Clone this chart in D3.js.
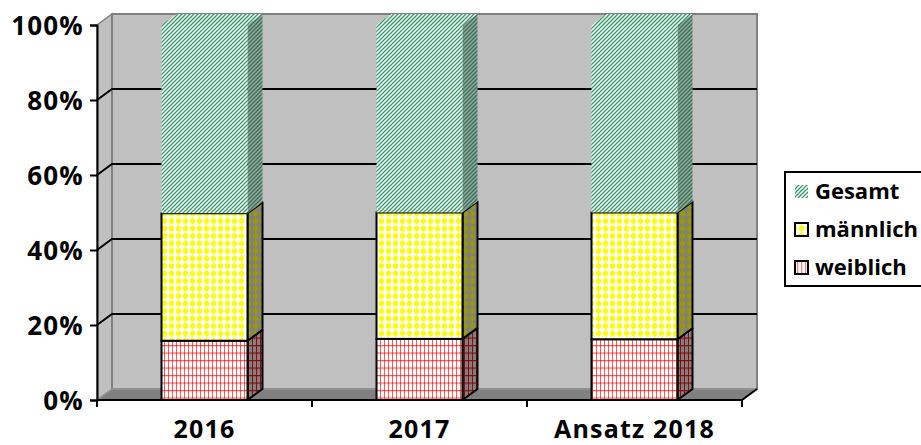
<!DOCTYPE html>
<html><head><meta charset="utf-8">
<script src="https://cdn.jsdelivr.net/npm/d3@7"></script>
<style>html,body{margin:0;padding:0;background:#fff;}svg{display:block;font-family:"Open Sans",sans-serif;font-weight:700;}</style>
</head><body>
<script>
const categories = ["2016", "2017", "Ansatz 2018"];
const seriesNames = ["weiblich", "männlich", "Gesamt"];
const weiblich = [15.8, 16.3, 16.2];
const maennlich = [34.0, 33.7, 33.8];
const gesamt = [50.2, 50.0, 50.0];
const yTicks = [0, 20, 40, 60, 80, 100];
const yTickLabels = ["0%", "20%", "40%", "60%", "80%", "100%"];

const W = 921, H = 445;
const dx = 15, dy = -11;
const svg = d3.select("body").append("svg").attr("width", W).attr("height", H);
const defs = svg.append("defs");

function pat(id, w, h, bg, draw) {
  const p = defs.append("pattern").attr("id", id).attr("patternUnits", "userSpaceOnUse").attr("width", w).attr("height", h);
  p.append("rect").attr("width", w).attr("height", h).attr("fill", bg);
  draw(p);
}
function stripes(p, col, sw) {
  p.append("path").attr("d", "M-1,1 L1,-1 M0,4 L4,0 M3,5 L5,3").attr("stroke", col).attr("stroke-width", sw);
}
function dots(p, col) {
  p.append("path").attr("d", "M3.5,0 L6,2 L6,5 L3.5,7 L1,5 L1,2 Z").attr("fill", col);
}
function grid(p, col, op) {
  p.append("rect").attr("x", 0).attr("y", 0).attr("width", 1).attr("height", 7.5).attr("fill", col).attr("opacity", op);
  p.append("rect").attr("x", 0).attr("y", 0).attr("width", 4).attr("height", 1.2).attr("fill", col).attr("opacity", op);
}
pat("gesF", 4, 4, "#ffffff", p => stripes(p, "#339966", 1.25));
pat("gesS", 4, 4, "#a0a0a0", p => stripes(p, "#2a7a52", 1.3));
pat("gesT", 4, 4, "#f2f2f2", p => stripes(p, "#339966", 1.25));
pat("manF", 7, 7.5, "#ffffff", p => dots(p, "#ffff00"));
pat("manS", 7, 7.5, "#808080", p => dots(p, "#9a9a00"));
pat("weiF", 4, 7.5, "#ffffff", p => grid(p, "#ff0000", 0.65));
pat("weiS", 4, 7.5, "#808080", p => grid(p, "#8b0000", 0.9));
pat("weiL", 4, 10, "#ffffff", p => p.append("rect").attr("x", 1).attr("width", 1.3).attr("height", 10).attr("fill", "#ff8080"));

const x = d3.scaleBand().domain(categories).range([97, 742]).paddingInner(0.6).paddingOuter(0.3);
const y = d3.scaleLinear().domain([0, 100]).range([400, 25]);
const x0 = 97, x1 = 742;

// left wall
svg.append("path").attr("d", `M${x0},${y(100)} L${x0+dx},${y(100)+dy} L${x0+dx},${y(0)+dy} L${x0},${y(0)} Z`)
  .attr("fill", "#c0c0c0").attr("stroke", "#808080").attr("stroke-width", 1.5);
// back wall
svg.append("rect").attr("x", x0 + dx).attr("y", y(100) + dy).attr("width", x1 - x0).attr("height", y(0) - y(100))
  .attr("fill", "#c0c0c0").attr("stroke", "#808080").attr("stroke-width", 2);
// gridlines
yTicks.filter(t => t > 0 && t < 100).forEach(t => {
  svg.append("path").attr("d", `M${x0},${y(t)} L${x0+dx},${y(t)+dy} L${x1+dx},${y(t)+dy}`)
    .attr("fill", "none").attr("stroke", "#000").attr("stroke-width", 2);
});
// floor
svg.append("path").attr("d", `M${x0},${y(0)} L${x1},${y(0)} L${x1+dx},${y(0)+dy} L${x0+dx},${y(0)+dy} Z`)
  .attr("fill", "#808080").attr("stroke", "#a0a0a0").attr("stroke-width", 1);

// bars
const stacks = categories.map((c, i) => {
  const vals = [weiblich[i], maennlich[i], gesamt[i]];
  let acc = 0;
  return vals.map((v, k) => { const s = { cat: c, k, y0: acc, y1: acc + v }; acc += v; return s; });
});
const fills = [["weiF", "weiS"], ["manF", "manS"], ["gesF", "gesS"]];
stacks.forEach(st => {
  const g = svg.append("g");
  st.forEach(s => {
    const bx = x(s.cat), bw = x.bandwidth();
    const ya = y(s.y0), yb = y(s.y1);
    const stroke = s.k < 2 ? "#000" : "none";
    g.append("path").attr("d", `M${bx+bw},${ya} L${bx+bw+dx},${ya+dy} L${bx+bw+dx},${yb+dy} L${bx+bw},${yb} Z`)
      .attr("fill", `url(#${fills[s.k][1]})`).attr("stroke", stroke).attr("stroke-width", 2).attr("stroke-linejoin", "round");
    if (s.k === 2) {
      g.append("path").attr("d", `M${bx},${yb} L${bx+dx},${yb+dy} L${bx+bw+dx},${yb+dy} L${bx+bw},${yb} Z`)
        .attr("fill", "url(#gesT)");
    }
    g.append("rect").attr("x", bx).attr("y", yb).attr("width", bw).attr("height", ya - yb)
      .attr("fill", `url(#${fills[s.k][0]})`).attr("stroke", stroke).attr("stroke-width", 2);
  });
});

// axes
const yAxis = d3.axisLeft(y).tickValues(yTicks).tickFormat((d, i) => yTickLabels[i]).tickSize(7).tickPadding(6);
const gy = svg.append("g").attr("transform", `translate(${x0},0)`).call(yAxis);
gy.select(".domain").attr("stroke", "#000").attr("stroke-width", 2);
gy.selectAll(".tick line").attr("stroke", "#000").attr("stroke-width", 2);
gy.selectAll(".tick text").attr("font-size", 26).attr("font-family", "Open Sans").attr("font-weight", 700)
  .attr("letter-spacing", 1.2).attr("fill", "#000").attr("dy", "0.36em");

svg.append("path").attr("d", `M${x0},${y(0)} L${x1},${y(0)} L${x1+dx},${y(0)+dy}`).attr("fill", "none").attr("stroke", "#000").attr("stroke-width", 2);
const tickPos = categories.map(c => x(c) - x.step() * x.paddingOuter()).concat([x1]);
tickPos.forEach(t => svg.append("line").attr("x1", t).attr("x2", t).attr("y1", y(0)).attr("y2", y(0) + 7).attr("stroke", "#000").attr("stroke-width", 2));
categories.forEach(c => {
  svg.append("text").attr("x", x(c) + x.bandwidth() / 2).attr("y", 438).attr("text-anchor", "middle")
    .attr("font-size", 25).attr("letter-spacing", 1.2).attr("fill", "#000").text(c);
});

// legend
const lg = svg.append("g");
lg.append("rect").attr("x", 785).attr("y", 172).attr("width", 200).attr("height", 114).attr("fill", "#fff").attr("stroke", "#000").attr("stroke-width", 2);
const legendItems = [["Gesamt", "gesF", false], ["männlich", "manF", true], ["weiblich", "weiL", true]];
legendItems.forEach((it, i) => {
  const cy = 191 + i * 38;
  lg.append("rect").attr("x", 795).attr("y", cy - 6).attr("width", 13).attr("height", 13)
    .attr("fill", `url(#${it[1]})`).attr("stroke", it[2] ? "#000" : "none").attr("stroke-width", 2);
  lg.append("text").attr("x", 815).attr("y", cy + 8).attr("font-size", 22).attr("fill", "#000").text(it[0]);
});
</script>
</body></html>
